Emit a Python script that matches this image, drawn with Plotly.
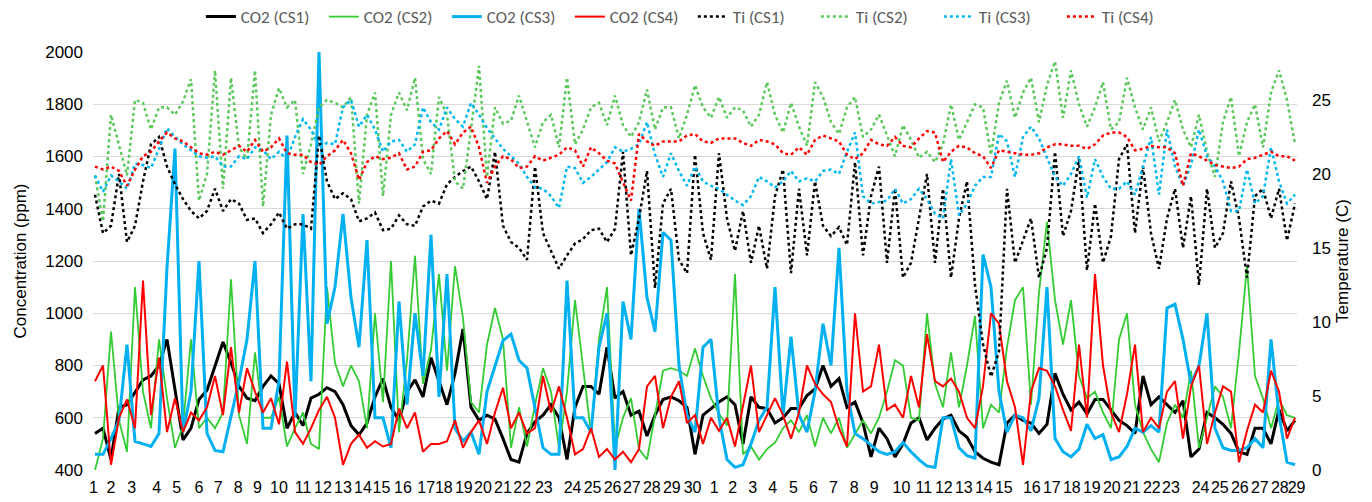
import plotly.graph_objects as go

# ---------------- data ----------------
day_labels = [str(d) for d in range(1, 31)] + [str(d) for d in range(1, 30)]
tick_pos = [-0.2, 2.0, 4.6, 7.7, 10.2, 13.0, 15.4, 17.9, 20.3, 23.0, 26.0, 28.5, 31.0, 33.5, 35.8,
            38.5, 41.4, 43.6, 46.1, 48.5, 51.0, 53.4, 56.1, 59.7, 62.2, 64.7, 67.1, 69.6, 72.1, 74.7,
            77.4, 79.7, 82.2, 84.7, 87.3, 89.8, 92.3, 94.9, 97.4, 100.8, 103.6, 106.1, 108.6, 111.1,
            113.6, 117.1, 119.6, 122.1, 124.6, 127.1, 129.6, 132.1, 134.5, 138.2, 140.6, 143.1, 145.6,
            148.1, 150.2]

co2_cs1 = [540, 560, 440, 640, 650, 700, 745, 760, 800, 900,
           700, 515, 560, 670, 705, 800, 890, 810, 720, 675,
           665, 720, 760, 730, 560, 620, 570, 675, 690, 715,
           700, 650, 570, 535, 580, 680, 750, 640, 590, 700,
           745, 680, 830, 740, 650, 770, 940, 640, 590, 610,
           595, 520, 440, 430, 540, 585, 610, 650, 600, 440,
           640, 720, 720, 690, 870, 675, 700, 610, 625, 530,
           610, 670, 680, 665, 640, 460, 610, 635, 660, 680,
           650, 500, 680, 640, 635, 580, 600, 635, 635, 685,
           710, 800, 720, 750, 640, 660, 580, 450, 560, 520,
           450, 500, 580, 600, 515, 560, 595, 610, 550, 525,
           470, 445, 430, 420, 580, 610, 590, 580, 540, 575,
           770, 690, 630, 660, 615, 670, 670, 630, 590, 570,
           540, 760, 650, 680, 650, 620, 665, 450, 480, 620,
           600, 575, 540, 470, 460, 560, 560, 500, 630, 550,
           590]

co2_cs2 = [400, 520, 930, 590, 470, 1100, 700, 560, 900, 675,
           485, 570, 900, 560, 600, 560, 620, 1130, 610, 500,
           850, 600, 600, 680, 490, 560, 620, 500, 480, 1100,
           810, 720, 800, 740, 560, 1000, 660, 1200, 545, 820,
           1220, 730, 860, 1150, 780, 1180, 980, 660, 620, 880,
           1020, 900, 485, 640, 490, 650, 790, 700, 485, 700,
           1050, 800, 540, 900, 1100, 485, 600, 675, 480, 440,
           610, 780, 790, 780, 760, 865, 760, 675, 615, 570,
           1150, 460, 490, 440, 480, 505, 560, 590, 545, 610,
           490, 600, 540, 600, 485, 540, 590, 540, 600, 700,
           820, 800, 600, 590, 1000, 730, 640, 850, 640, 800,
           990, 560, 650, 620, 870, 1050, 1100, 650, 1080, 1350,
           1050, 880, 1050, 760, 675, 700, 620, 560, 900, 1000,
           650, 545, 480, 430, 580, 650, 600, 780, 485, 600,
           720, 680, 560, 850, 1180, 760, 675, 560, 670, 610,
           600]

co2_cs3 = [460, 460, 520, 590, 880, 510, 500, 490, 540, 1175,
           1630, 545, 700, 1200, 540, 475, 470, 610, 740, 900,
           1200, 560, 560, 740, 1680, 600, 1380, 740, 2000, 960,
           1100, 1380, 1060, 870, 1280, 600, 600, 485, 1045, 650,
           1000, 760, 1300, 680, 1150, 560, 510, 545, 460, 700,
           800, 895, 920, 820, 790, 640, 485, 460, 460, 1125,
           600, 600, 545, 870, 1000, 400, 1045, 900, 1400, 1060,
           930, 1310, 1280, 800, 610, 545, 870, 900, 600, 440,
           410, 420, 500, 590, 640, 1100, 610, 910, 610, 545,
           700, 960, 800, 1250, 700, 540, 520, 495, 470, 460,
           470, 505, 470, 440, 415, 410, 600, 600, 485, 455,
           445, 1225, 1100, 700, 545, 610, 600, 550, 675, 1100,
           520, 470, 450, 480, 575, 520, 535, 440, 450, 490,
           560, 545, 570, 545, 1020, 1035, 900, 730, 800, 1000,
           560, 485, 475, 475, 485, 520, 485, 900, 610, 430,
           420]

co2_cs4 = [740, 800, 420, 600, 670, 560, 1125, 610, 830, 545,
           675, 545, 620, 590, 640, 760, 610, 870, 620, 790,
           700, 620, 675, 575, 815, 545, 500, 560, 630, 680,
           600, 420, 500, 535, 485, 510, 490, 500, 635, 560,
           620, 470, 500, 500, 510, 590, 485, 545, 590, 500,
           620, 715, 560, 620, 540, 560, 760, 620, 720, 600,
           460, 480, 560, 450, 480, 440, 470, 430, 480, 720,
           760, 560, 680, 740, 580, 610, 500, 600, 550, 600,
           490, 640, 800, 545, 610, 675, 610, 520, 620, 800,
           730, 690, 660, 560, 490, 1000, 700, 720, 880, 630,
           650, 600, 760, 640, 920, 740, 720, 750, 700, 600,
           560, 720, 1000, 960, 740, 640, 420, 700, 790, 780,
           720, 630, 550, 880, 600, 1150, 800, 620, 545, 690,
           880, 545, 600, 560, 700, 740, 520, 720, 800, 500,
           620, 720, 700, 430, 550, 650, 620, 780, 700, 520,
           600]

ti_cs1 = [18.6, 16.0, 16.5, 20.0, 15.4, 16.5, 19.5, 22.0, 22.5, 20.5,
          19.3, 18.3, 17.5, 17.0, 17.5, 19.0, 17.5, 18.3, 18.0, 16.9,
          17.0, 16.0, 16.6, 17.4, 16.3, 16.6, 16.6, 16.3, 22.6, 19.5,
          18.3, 18.7, 18.3, 16.8, 17.0, 17.4, 16.2, 16.3, 17.2, 16.6,
          16.5, 17.8, 18.2, 18.0, 19.3, 19.8, 20.2, 20.5, 19.5, 18.3,
          21.5, 16.5, 15.4, 15.0, 14.2, 20.5, 16.0, 14.8, 13.6, 14.5,
          15.3, 15.6, 16.2, 16.3, 15.4, 16.3, 21.5, 14.5, 17.0, 20.2,
          12.3, 18.0, 19.0, 14.2, 13.3, 21.3, 16.0, 14.2, 21.4, 17.0,
          14.8, 17.5, 14.0, 16.5, 13.6, 18.5, 20.3, 13.3, 19.0, 14.5,
          19.5, 16.5, 15.8, 16.4, 15.2, 20.8, 14.5, 18.5, 20.5, 14.0,
          19.0, 13.0, 14.0, 17.0, 20.0, 14.0, 19.0, 13.0, 17.0, 19.5,
          12.5, 8.5, 6.3, 8.0, 19.0, 14.0, 15.5, 17.0, 13.0, 15.0,
          21.5, 15.8, 17.5, 21.0, 13.5, 18.0, 14.0, 15.8, 21.0, 22.0,
          16.0, 20.5, 16.0, 13.6, 17.0, 19.0, 15.0, 18.5, 12.5, 19.0,
          15.0, 16.0, 19.5, 17.0, 13.0, 18.5, 19.0, 17.0, 19.0, 15.5,
          18.0]

ti_cs2 = [19.9, 16.8, 24.0, 22.0, 19.9, 25.0, 24.8, 23.0, 24.5, 24.5,
          24.0, 24.9, 26.4, 18.2, 20.0, 27.0, 19.0, 26.5, 21.8, 21.0,
          27.0, 17.8, 24.0, 25.8, 24.5, 25.0, 20.0, 22.0, 24.5, 25.0,
          24.8, 24.5, 25.2, 18.0, 24.0, 25.5, 18.5, 24.0, 25.5, 24.3,
          26.5, 21.0, 20.0, 25.2, 24.0, 19.5, 19.0, 23.0, 27.3, 19.8,
          24.5, 23.4, 23.6, 25.3, 23.5, 21.8, 23.5, 24.0, 21.8, 26.5,
          22.0, 23.0, 24.5, 24.8, 23.3, 25.3, 23.3, 22.5, 23.5, 25.7,
          23.0, 24.5, 24.5, 22.4, 24.0, 26.0, 24.5, 23.8, 25.2, 23.8,
          24.5, 24.3, 23.2, 24.0, 26.2, 24.0, 22.8, 24.8, 23.2, 21.9,
          26.2, 25.2, 23.5, 22.7, 24.5, 25.2, 22.5, 23.0, 24.0, 22.6,
          21.2, 23.3, 22.3, 21.1, 21.5, 20.8, 22.0, 24.7, 22.3, 23.5,
          24.7, 24.5, 21.3, 24.8, 26.3, 23.8, 25.5, 26.5, 23.5, 26.0,
          27.6, 23.8, 27.0, 24.7, 23.2, 24.5, 26.2, 23.0, 23.5, 26.5,
          24.5, 23.0, 24.5, 22.2, 23.5, 25.0, 23.0, 21.8, 24.0, 21.5,
          19.8, 23.5, 25.2, 21.2, 23.5, 24.7, 21.8, 25.5, 27.0, 25.0,
          22.0]

ti_cs3 = [19.9, 18.8, 19.9, 19.5, 19.0, 20.7, 20.6, 20.4, 21.7, 23.1,
          22.5, 22.0, 21.6, 21.2, 21.1, 21.2, 20.5, 20.5, 21.2, 21.0,
          21.8, 21.6, 21.0, 21.5, 21.0, 22.5, 23.7, 23.0, 21.8, 22.1,
          22.0, 24.5, 25.0, 23.2, 24.0, 23.0, 21.5, 22.2, 22.3, 21.5,
          22.0, 24.5, 23.5, 23.0, 24.5, 23.7, 23.2, 24.8, 24.0, 23.1,
          22.4, 21.7, 21.2, 20.7, 19.8, 19.1, 19.0, 18.5, 17.7, 20.5,
          20.4, 19.4, 19.8, 20.3, 20.8, 21.8, 21.5, 21.7, 22.0, 23.5,
          21.3, 19.8, 21.4, 20.2, 19.2, 20.5, 19.5, 19.2, 19.0, 18.6,
          18.2, 17.9, 18.5, 19.8, 19.5, 19.1, 19.5, 20.2, 19.5, 19.7,
          19.5, 20.2, 20.3, 20.0, 21.5, 22.8, 18.5, 18.0, 18.1, 18.2,
          19.0, 18.0, 18.3, 19.0, 18.3, 17.3, 17.0, 21.0, 17.2, 18.0,
          19.2, 19.8, 19.8, 22.7, 22.2, 19.8, 22.5, 23.2, 22.4, 21.1,
          19.8, 19.2, 20.0, 21.2, 18.4, 21.0, 19.8, 19.0, 19.0, 19.5,
          18.6, 20.5, 22.5, 18.6, 23.0, 20.5, 19.2, 20.6, 23.0, 21.2,
          20.5, 19.5, 17.5, 17.5, 20.3, 18.0, 18.5, 21.8, 19.5, 18.0,
          18.6]

ti_cs4 = [20.5, 20.3, 20.5, 20.2, 19.2, 20.3, 21.2, 21.5, 22.2, 22.8,
          22.4, 22.2, 21.8, 21.4, 21.3, 21.5, 21.3, 21.6, 21.9, 21.5,
          22.3, 21.5, 21.8, 22.4, 21.4, 21.3, 21.3, 20.8, 20.6, 21.2,
          21.6, 22.3, 21.4, 19.6, 20.8, 21.2, 21.0, 21.1, 21.4, 20.3,
          20.5, 21.5, 21.6, 22.4, 22.9, 22.0, 22.8, 23.2, 21.8, 19.4,
          20.5, 21.2, 21.0, 20.4, 20.5, 21.2, 20.9, 21.1, 21.3, 21.8,
          21.6, 20.5, 21.8, 21.4, 20.9, 20.7, 19.5, 18.2, 22.7, 22.2,
          21.9, 22.2, 22.2, 22.2, 22.6, 22.7, 22.2, 22.1, 22.4, 22.4,
          22.4, 22.1, 21.9, 22.3, 22.2, 22.0, 21.4, 21.3, 21.8, 21.3,
          22.3, 22.6, 22.4, 22.2, 21.3, 21.0, 21.4, 22.3, 22.0, 21.9,
          22.5, 21.9, 21.8, 22.4, 22.9, 22.8, 20.8, 21.5, 21.9, 21.8,
          21.4, 21.2, 20.4, 21.6, 21.5, 21.4, 21.3, 21.3, 21.4, 21.8,
          22.0, 22.0, 21.9, 21.9, 21.7, 22.0, 22.6, 22.8, 22.8, 22.5,
          21.6, 21.7, 21.9, 21.8, 21.8, 21.4, 19.2, 21.4, 21.2, 20.9,
          20.6, 20.5, 20.4, 20.5, 21.0, 21.1, 21.3, 21.5, 21.2, 21.2,
          20.9]

# ---------------- figure ----------------
x = list(range(len(co2_cs1)))
AX_FONT = "Arial, 'Liberation Sans', sans-serif"

fig = go.Figure()
co2_series = [
    ("CO2 (CS1)", co2_cs1, "#000000", 3.0),
    ("CO2 (CS2)", co2_cs2, "#33CC33", 1.8),
    ("CO2 (CS3)", co2_cs3, "#00B0F0", 3.0),
    ("CO2 (CS4)", co2_cs4, "#FF0000", 2.0),
]
for name, ys, color, w in co2_series:
    fig.add_trace(go.Scatter(x=x, y=ys, mode="lines", name=name,
                             line=dict(color=color, width=w)))

ti_series = [
    ("Ti (CS1)", ti_cs1, "#000000"),
    ("Ti (CS2)", ti_cs2, "#5BC85B"),
    ("Ti (CS3)", ti_cs3, "#00B8F0"),
    ("Ti (CS4)", ti_cs4, "#FF0000"),
]
for name, ys, color in ti_series:
    fig.add_trace(go.Scatter(x=x, y=ys, mode="lines", name=name, yaxis="y2",
                             line=dict(color=color, width=2.5, dash="dot")))

fig.update_layout(
    width=1372, height=502,
    margin=dict(l=93, r=75, t=52, b=32, autoexpand=False),
    paper_bgcolor="white", plot_bgcolor="white",
    font=dict(family=AX_FONT, size=16, color="#000000"),
    showlegend=True,
    legend=dict(orientation="h", xref="container", x=0.505, xanchor="center",
                yref="container", y=0.966, yanchor="middle",
                font=dict(family="Calibri, Carlito, 'Liberation Sans Narrow', Arial", size=17, color="#595959"),
                bgcolor="rgba(0,0,0,0)", itemwidth=30, entrywidth=78, tracegroupgap=0),
    xaxis=dict(range=[-0.25, 150.25], tickmode="array", tickvals=tick_pos, ticktext=day_labels,
               tickangle=0, showgrid=False, zeroline=False, showline=False, ticks="",
               ticklabelstandoff=6, automargin=False, tickfont=dict(size=16, color="#000000")),
    yaxis=dict(range=[400, 2000], dtick=200, showgrid=True, gridcolor="#D9D9D9", gridwidth=1,
               zeroline=False, showline=False, ticks="", ticklabelstandoff=9,
               tickfont=dict(size=17, color="#000000"),
               title=dict(text="Concentration (ppm)", font=dict(size=17, color="#000000"), standoff=14),
               automargin=False),
    yaxis2=dict(range=[0, 28.24], dtick=5, overlaying="y", side="right", showgrid=False,
                zeroline=False, showline=False, ticks="", ticklabelstandoff=14,
                tickfont=dict(size=17, color="#000000"),
                title=dict(text="Temperature (C)", font=dict(size=17, color="#000000"), standoff=6),
                automargin=False),
)

fig.write_html("out.html", config={"displayModeBar": False},
               post_script="document.body.style.margin='0';")
